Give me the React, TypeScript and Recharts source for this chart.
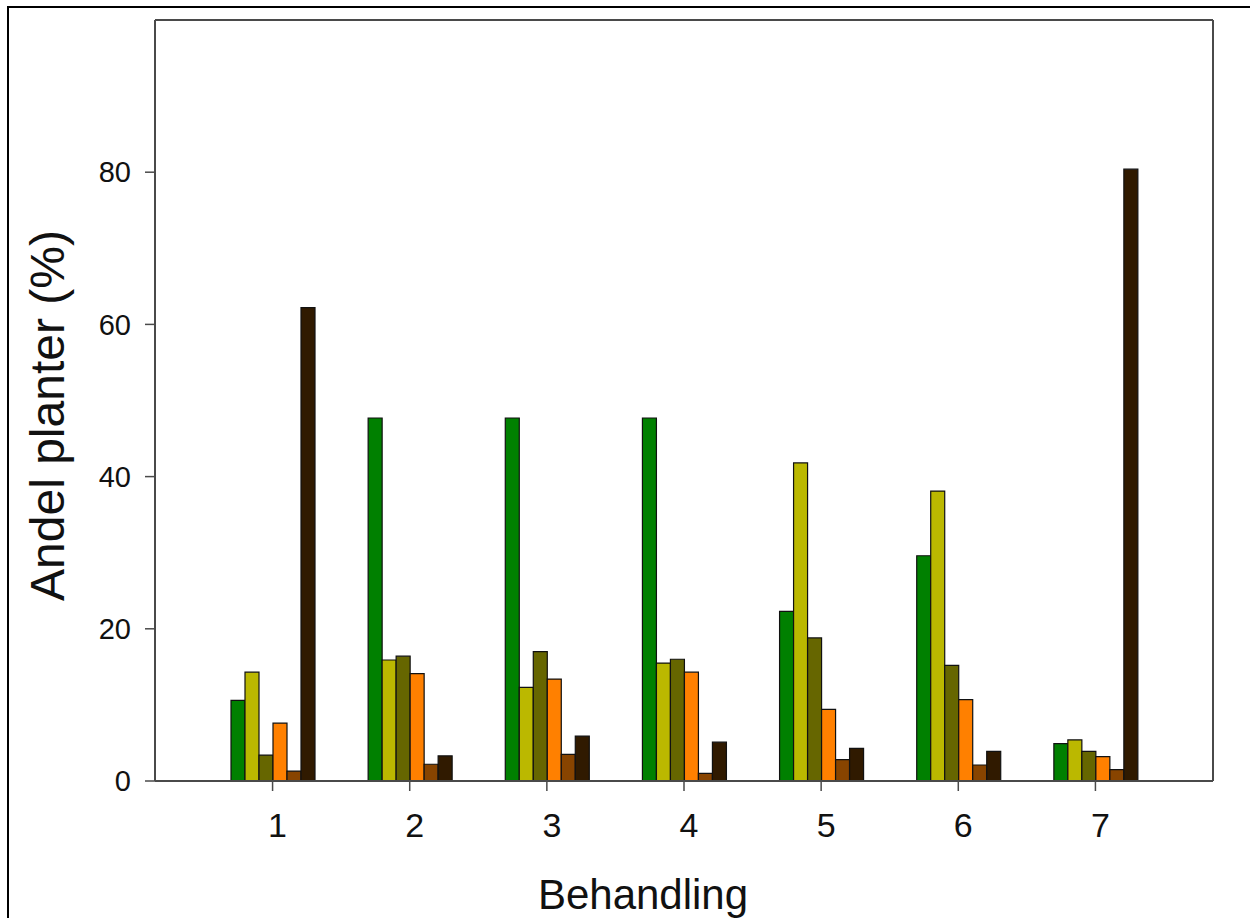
import React from 'react';
import { BarChart, Bar, XAxis, YAxis } from 'recharts';

// Behandling 1-7, andel planter (%) per gruppe
const categories = ['1', '2', '3', '4', '5', '6', '7'];
const gruppe1 = [10.6, 47.7, 47.7, 47.7, 22.3, 29.6, 4.9];
const gruppe2 = [14.3, 15.9, 12.3, 15.5, 41.8, 38.1, 5.4];
const gruppe3 = [3.4, 16.4, 17.0, 16.0, 18.8, 15.2, 3.9];
const gruppe4 = [7.6, 14.1, 13.4, 14.3, 9.4, 10.7, 3.2];
const gruppe5 = [1.3, 2.2, 3.5, 1.0, 2.8, 2.1, 1.5];
const gruppe6 = [62.2, 3.3, 5.9, 5.1, 4.3, 3.9, 80.4];
const yTicks = [0, 20, 40, 60, 80];

const SERIES = [
  { key: 'g1', values: gruppe1, color: '#008000' },
  { key: 'g2', values: gruppe2, color: '#BBB800' },
  { key: 'g3', values: gruppe3, color: '#666600' },
  { key: 'g4', values: gruppe4, color: '#FF8000' },
  { key: 'g5', values: gruppe5, color: '#884400' },
  { key: 'g6', values: gruppe6, color: '#301A00' },
];

const data = categories.map((name, i) => {
  const row: Record<string, string | number> = { name };
  SERIES.forEach((s) => {
    row[s.key] = s.values[i];
  });
  return row;
});

const FONT = '"Liberation Sans", Arial, sans-serif';
const AXIS = '#4a4a4a';

const App = () => {
  return (
    <div style={{ position: 'absolute', left: 0, top: 0, width: 1250, height: 918, background: '#fff' }}>
      {/* outer frame of the figure */}
      <div
        style={{
          position: 'absolute',
          left: 7,
          top: 6,
          right: 0,
          bottom: 0,
          borderTop: '2px solid #000',
          borderLeft: '2px solid #000',
          pointerEvents: 'none',
        }}
      />
      <div style={{ position: 'absolute', left: 0, top: 0 }}>
        <BarChart
          width={1250}
          height={918}
          data={data}
          margin={{ top: 19, right: 36, bottom: 0, left: 0 }}
          barCategoryGap={27}
          barGap={0}
          style={{ fontFamily: FONT }}
        >
          <XAxis
            dataKey="name"
            height={137}
            padding={{ left: 49, right: 49 }}
            axisLine={{ stroke: AXIS, strokeWidth: 2 }}
            tickLine={{ stroke: AXIS, strokeWidth: 1.5 }}
            tickSize={10}
            tickMargin={22}
            tick={{ fontSize: 34, fill: '#111', dx: 5 }}
            label={{ value: 'Behandling', position: 'center', dx: -41, dy: 45, fontSize: 42, fill: '#111' }}
          />
          <XAxis
            xAxisId="top"
            dataKey="name"
            orientation="top"
            height={1}
            tick={false}
            tickLine={false}
            axisLine={{ stroke: AXIS, strokeWidth: 2 }}
          />
          <YAxis
            width={155}
            domain={[0, 100]}
            ticks={yTicks}
            axisLine={{ stroke: AXIS, strokeWidth: 2 }}
            tickLine={{ stroke: AXIS, strokeWidth: 1.5 }}
            tickSize={10}
            tickMargin={14}
            tick={{ fontSize: 29, fill: '#111' }}
            label={{
              value: 'Andel planter (%)',
              angle: -90,
              position: 'center',
              dx: -31,
              dy: 15,
              fontSize: 48,
              fill: '#111',
            }}
          />
          <YAxis
            yAxisId="right"
            orientation="right"
            width={1}
            domain={[0, 100]}
            tick={false}
            tickLine={false}
            axisLine={{ stroke: AXIS, strokeWidth: 2 }}
          />
          {SERIES.map((s) => (
            <Bar
              key={s.key}
              dataKey={s.key}
              fill={s.color}
              stroke="#111"
              strokeWidth={1.2}
              isAnimationActive={false}
            />
          ))}
        </BarChart>
      </div>
    </div>
  );
};

export default App;
